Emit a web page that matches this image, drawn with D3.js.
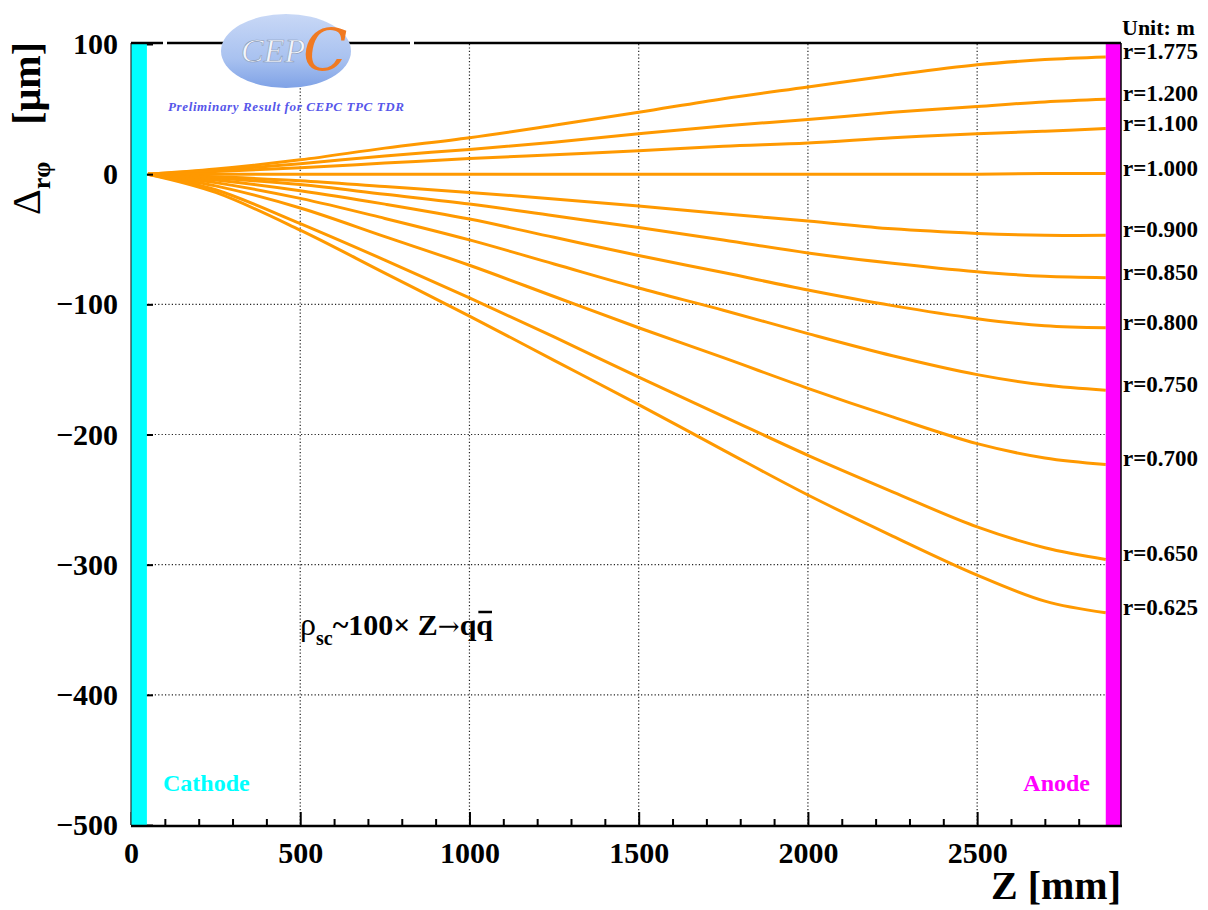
<!DOCTYPE html>
<html>
<head>
<meta charset="utf-8">
<script src="https://cdn.jsdelivr.net/npm/d3@7"></script>
<style>
  body { margin: 0; background: #fff; }
  svg { display: block; }
  text { font-family: "Liberation Serif", "Times New Roman", serif; }
</style>
</head>
<body>
<div id="chartDiv"></div>
<script>
var zPoints = [50, 250, 500, 750, 1000, 1250, 1500, 1750, 2000, 2250, 2500, 2700, 2880];

// delta r-phi (um) for each radius
var dr_1775 = [0, 4, 11, 20, 28, 37.5, 47.5, 58, 67, 76, 84, 88, 90];
var dr_1200 = [0, 3, 8, 14, 19, 24.5, 31, 37, 42, 47.5, 52, 55.5, 57.5];
var dr_1100 = [0, 2, 5, 8.5, 12, 15, 18, 21.5, 24, 28, 31, 33, 35];
var dr_1000 = [0, 0, 0, 0, 0, 0, 0, 0, 0, 0, 0, 0.5, 0.5];
var dr_0900 = [0, -2, -5, -9.5, -14, -19, -24.4, -30.5, -36, -42, -45.5, -47, -47];
var dr_0850 = [0, -3, -8, -15.5, -23, -32, -41, -50.6, -60.5, -68.5, -75, -78.5, -79.5];
var dr_0800 = [0, -4.5, -12.7, -23, -34.5, -48.5, -62.5, -75.6, -89, -101, -111, -116.5, -118];
var dr_0750 = [0, -6.5, -18.6, -34, -50.5, -69, -87.5, -104.5, -122.5, -139.5, -154, -162, -166];
var dr_0700 = [0, -9, -26, -48, -70, -94, -118, -141, -164.5, -186.5, -207, -218, -223];
var dr_0650 = [0, -12, -38, -66, -95, -125, -156, -186, -216, -244, -271, -287, -296];
var dr_0625 = [0, -14, -43, -76, -109, -143, -177, -212, -246.5, -278, -308, -328, -337];

var radiusLabels = ['r=1.775', 'r=1.200', 'r=1.100', 'r=1.000', 'r=0.900', 'r=0.850',
                    'r=0.800', 'r=0.750', 'r=0.700', 'r=0.650', 'r=0.625'];
var seriesValues = [dr_1775, dr_1200, dr_1100, dr_1000, dr_0900, dr_0850,
                    dr_0800, dr_0750, dr_0700, dr_0650, dr_0625];

var xTicks = [0, 500, 1000, 1500, 2000, 2500];
var yTicks = [100, 0, -100, -200, -300, -400, -500];
var cathodeRange = [0, 47];
var anodeRange = [2880, 2925];

var width = 1208;
var height = 910;
// note: "top" is taken by window.top, so use other names
var plotLeft = 131, plotRight = 1121, plotTop = 44, plotBottom = 825;

var svg = d3.select('#chartDiv')
  .append('svg')
  .attr('width', width)
  .attr('height', height);

var x = d3.scaleLinear().domain([0, 2925]).range([plotLeft, plotRight]);
var y = d3.scaleLinear().domain([-500, 100]).range([plotBottom, plotTop]);

// dotted grid
var grid = svg.append('g')
  .attr('stroke', '#222')
  .attr('stroke-width', 1.2)
  .attr('stroke-dasharray', '1.2,2.2');
grid.selectAll('.gx')
  .data(xTicks.filter(function (d) { return d > 0; }))
  .enter().append('line')
  .attr('x1', function (d) { return x(d); })
  .attr('x2', function (d) { return x(d); })
  .attr('y1', plotTop).attr('y2', plotBottom);
grid.selectAll('.gy')
  .data(yTicks.filter(function (d) { return d < 100 && d > -500; }))
  .enter().append('line')
  .attr('y1', function (d) { return y(d); })
  .attr('y2', function (d) { return y(d); })
  .attr('x1', plotLeft).attr('x2', plotRight);

// curves
var line = d3.line()
  .x(function (d, i) { return x(zPoints[i]); })
  .y(function (d) { return y(d); })
  .curve(d3.curveCatmullRom.alpha(0.5));

svg.append('g').selectAll('path')
  .data(seriesValues)
  .enter().append('path')
  .attr('d', line)
  .attr('fill', 'none')
  .attr('stroke', '#ff9900')
  .attr('stroke-width', 3);

// x axis, ticks point inwards
var xMinor = d3.range(0, 2925, 100).filter(function (d) { return d % 500 !== 0; });
svg.append('g')
  .attr('transform', 'translate(0,' + plotBottom + ')')
  .call(d3.axisBottom(x).tickValues(xMinor).tickSizeInner(-6).tickSizeOuter(0).tickFormat(''))
  .call(function (g) { g.select('.domain').remove(); })
  .selectAll('line').attr('stroke', '#000').attr('stroke-width', 2);

var xAxis = svg.append('g')
  .attr('transform', 'translate(0,' + plotBottom + ')')
  .call(d3.axisBottom(x).tickValues(xTicks).tickSizeInner(-13).tickSizeOuter(0).tickPadding(17)
    .tickFormat(d3.format('d')));
xAxis.select('.domain').remove();
xAxis.selectAll('line').attr('stroke', '#000').attr('stroke-width', 2);
xAxis.selectAll('text')
  .attr('fill', '#000')
  .style('font-size', '30px')
  .style('font-weight', 'bold')
  .style('font-family', '"Liberation Serif", serif');

var yAxis = svg.append('g')
  .attr('transform', 'translate(' + plotLeft + ',0)')
  .call(d3.axisLeft(y).tickValues(yTicks).tickSizeInner(-22).tickSizeOuter(0).tickPadding(13)
    .tickFormat(function (d) { return d < 0 ? '\u2212' + Math.abs(d) : d; }));
yAxis.select('.domain').remove();
yAxis.selectAll('line').attr('stroke', '#000').attr('stroke-width', 2);
yAxis.selectAll('text')
  .attr('fill', '#000')
  .style('font-size', '30px')
  .style('font-weight', 'bold')
  .style('font-family', '"Liberation Serif", serif');

// cathode / anode bands
svg.append('rect')
  .attr('x', x(cathodeRange[0])).attr('y', plotTop)
  .attr('width', x(cathodeRange[1]) - x(cathodeRange[0]))
  .attr('height', plotBottom - plotTop)
  .attr('fill', '#00ffff');
svg.append('rect')
  .attr('x', x(anodeRange[0])).attr('y', plotTop)
  .attr('width', x(anodeRange[1]) - x(anodeRange[0]))
  .attr('height', plotBottom - plotTop)
  .attr('fill', '#ff00ff');

// frame
svg.append('line').attr('x1', plotLeft).attr('x2', plotLeft).attr('y1', plotTop - 1).attr('y2', plotBottom)
  .attr('stroke', '#333').attr('stroke-width', 1.2);
svg.append('line').attr('x1', plotRight).attr('x2', plotRight).attr('y1', plotTop - 1).attr('y2', plotBottom + 1)
  .attr('stroke', '#000').attr('stroke-width', 1.5);
svg.append('line').attr('x1', plotLeft).attr('x2', plotRight + 1).attr('y1', plotBottom + 1).attr('y2', plotBottom + 1)
  .attr('stroke', '#000').attr('stroke-width', 2.5);
// top border has two small gaps in it
var topSegs = [[plotLeft, 163], [167, 410], [414, plotRight]];
svg.selectAll('.topseg').data(topSegs).enter().append('line')
  .attr('x1', function (d) { return d[0]; }).attr('x2', function (d) { return d[1]; })
  .attr('y1', plotTop - 1).attr('y2', plotTop - 1)
  .attr('stroke', '#000').attr('stroke-width', 2.5);

// radius labels on the right
svg.append('g').selectAll('text')
  .data(seriesValues)
  .enter().append('text')
  .attr('x', plotRight + 2)
  .attr('y', function (d) { return y(d[d.length - 1]) + 2; })
  .style('font-size', '23px')
  .style('font-weight', 'bold')
  .text(function (d, i) { return radiusLabels[i]; });

svg.append('text')
  .attr('x', plotRight + 1).attr('y', 35)
  .style('font-size', '22px').style('font-weight', 'bold')
  .text('Unit: m');

svg.append('text')
  .attr('x', 163).attr('y', 791)
  .attr('fill', '#00ffff')
  .style('font-size', '24px').style('font-weight', 'bold')
  .text('Cathode');
svg.append('text')
  .attr('x', 1090).attr('y', 791)
  .attr('text-anchor', 'end')
  .attr('fill', '#ff00ff')
  .style('font-size', '24px').style('font-weight', 'bold')
  .text('Anode');

// axis titles
svg.append('text')
  .attr('x', plotRight).attr('y', 899)
  .attr('text-anchor', 'end')
  .style('font-size', '40px').style('font-weight', 'bold')
  .text('Z [mm]');

var yt = svg.append('text')
  .attr('transform', 'rotate(-90)')
  .attr('x', -215).attr('y', 40)
  .style('font-size', '40px');
yt.append('tspan').text('\u0394');
yt.append('tspan').attr('dy', 10).style('font-size', '26px').style('font-weight', 'bold').text('r\u03c6');
svg.append('text')
  .attr('transform', 'rotate(-90)')
  .attr('x', -42).attr('y', 40)
  .attr('text-anchor', 'end')
  .style('font-size', '40px').style('font-weight', 'bold')
  .text('[\u03bcm]');

// annotation
var ann = svg.append('text')
  .attr('x', 300).attr('y', 635)
  .style('font-size', '30px').style('font-weight', 'bold');
ann.append('tspan').style('font-weight', 'normal').style('font-size', '32px').text('\u03c1');
ann.append('tspan').attr('dy', 10).style('font-size', '20px').text('sc');
ann.append('tspan').attr('dy', -10).text('~100\u00d7 Z');
ann.append('tspan').style('font-family', '"DejaVu Serif", serif').style('font-weight', 'normal')
  .style('font-size', '26px').text('\u2192');
ann.append('tspan').text('q');
ann.append('tspan').text('q');
var annNode = ann.node();
var nChars = annNode.getNumberOfChars();
var qBox = annNode.getExtentOfChar(nChars - 1);
svg.append('line')
  .attr('x1', qBox.x + 2).attr('x2', qBox.x + qBox.width - 1)
  .attr('y1', 612).attr('y2', 612)
  .attr('stroke', '#000').attr('stroke-width', 2.5);

// logo
var defs = svg.append('defs');
var grad = defs.append('linearGradient').attr('id', 'logoGrad')
  .attr('x1', 0).attr('y1', 0).attr('x2', 0).attr('y2', 1);
grad.append('stop').attr('offset', '0%').attr('stop-color', '#c8d8f6');
grad.append('stop').attr('offset', '60%').attr('stop-color', '#a9c2f0');
grad.append('stop').attr('offset', '100%').attr('stop-color', '#7fa2e6');

svg.append('ellipse')
  .attr('cx', 286).attr('cy', 51).attr('rx', 65).attr('ry', 37)
  .attr('fill', 'url(#logoGrad)');
svg.append('text')
  .attr('x', 241).attr('y', 62)
  .attr('fill', '#f4f6fb')
  .attr('stroke', '#8a9ab8').attr('stroke-width', 0.6)
  .style('font-size', '34px').style('font-style', 'italic')
  .text('CEP');
svg.append('text')
  .attr('x', 303).attr('y', 70)
  .attr('fill', '#f07a22')
  .style('font-size', '58px').style('font-style', 'italic')
  .style('font-family', '"DejaVu Serif", serif')
  .text('C');
svg.append('text')
  .attr('x', 168).attr('y', 111)
  .attr('textLength', 236)
  .attr('fill', '#5656ea')
  .style('font-size', '13px').style('font-style', 'italic').style('font-weight', 'bold')
  .text('Preliminary Result for CEPC TPC TDR');
</script>
</body>
</html>
